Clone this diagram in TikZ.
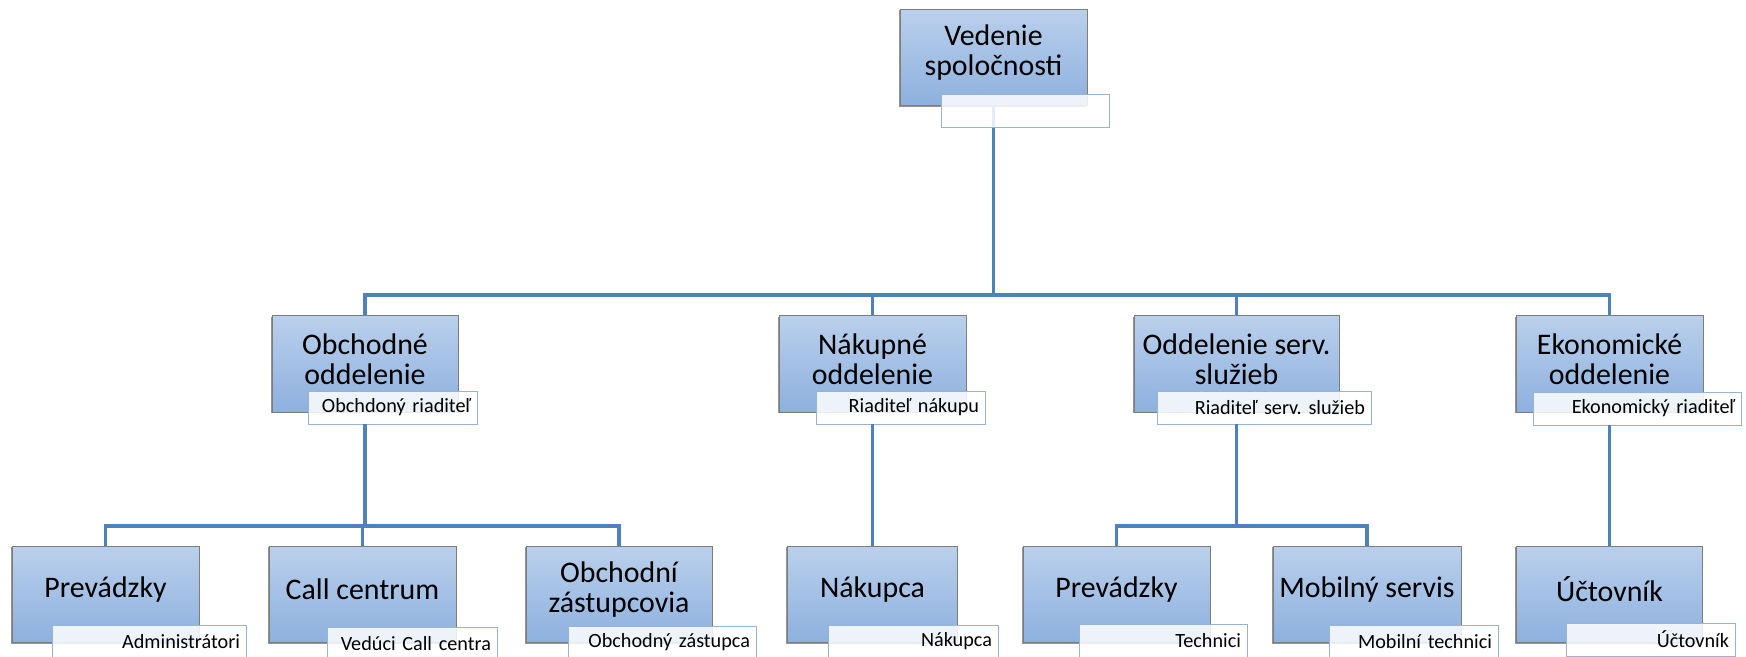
\documentclass[tikz,border=0pt]{standalone}
\usepackage{fontspec}
\setmainfont{Carlito}
\frenchspacing
\usetikzlibrary{shadows}
\definecolor{boxtop}{RGB}{186,208,236}
\definecolor{boxbottom}{RGB}{141,176,222}
\definecolor{boxedge}{RGB}{125,125,125}
\definecolor{roleedge}{RGB}{149,180,218}
\definecolor{connblue}{RGB}{79,129,189}
\tikzset{
  unitbox/.style={draw=boxedge, top color=boxtop, bottom color=boxbottom,
    minimum width=#1, minimum height=1.93cm, inner sep=0pt,
    drop shadow={shadow xshift=-0.6pt, shadow yshift=-0.6pt, opacity=0.6, fill=black!70}},
  unitbox/.default=3.74cm,
  unittext/.style={font=\fontsize{17}{17}\selectfont, align=center, yshift=0.1cm},
  rolebox/.style={draw=roleedge, fill=white, fill opacity=0.85, text opacity=1,
    text width=#1, align=right, minimum height=0.66cm, inner xsep=0.12cm,
    inner ysep=0pt, font=\fontsize{11.5}{12}\selectfont},
  conn/.style={draw=connblue, line width=1.8pt}
}
\begin{document}
\begin{tikzpicture}[x=0.02cm, y=-0.02cm]
    \useasboundingbox (0,0) rectangle (1746,656);

    % top level
    \node[unitbox, label={[unittext]center:{Vedenie\\spoločnosti}}] (ved) at (993.5,57.5) {};

    % departments
    \node[unitbox=3.72cm, label={[unittext]center:{Obchodné\\oddelenie}}] (obch) at (365,364) {};
    \node[unitbox, label={[unittext]center:{Nákupné\\oddelenie}}] (nakup) at (872.5,364) {};
    \node[unitbox=4.1cm, label={[unittext]center:{Oddelenie serv.\\služieb}}] (serv) at (1236.5,364) {};
    \node[unitbox, label={[unittext]center:{Ekonomické\\oddelenie}}] (ekon) at (1609.5,364) {};

    % staff
    \node[unitbox, label={[unittext]center:{Prevádzky}}] (prevA) at (105.5,594.5) {};
    \node[unitbox, label={[unittext]center:{Call centrum}}] (call) at (362.5,594.5) {};
    \node[unitbox=3.72cm, label={[unittext]center:{Obchodní\\zástupcovia}}] (zast) at (619,594.5) {};
    \node[unitbox=3.4cm, label={[unittext]center:{Nákupca}}] (nakupca) at (872.5,594.5) {};
    \node[unitbox, label={[unittext]center:{Prevádzky}}] (prevB) at (1116.5,594.5) {};
    \node[unitbox=3.76cm, label={[unittext]center:{Mobilný servis}}] (mobil) at (1367,594.5) {};
    \node[unitbox=3.72cm, label={[unittext]center:{Účtovník}}] (uct) at (1609.5,594.5) {};

    % connectors to departments
    \coordinate (busA) at (993.5,295);
    \draw[conn] (ved.south) -- (busA);
    \foreach \u in {obch,nakup,serv,ekon}
        \draw[conn] (busA) -| (\u.north);

    % role boxes
    \node[rolebox=3.12cm] (vedR) at (1025,110.5) {};
    \node[rolebox=3.14cm] (obchR) at (392.5,407.5) {Obchdoný riaditeľ};
    \node[rolebox=3.14cm] (nakupR) at (900.5,407.5) {Riaditeľ nákupu};
    \node[rolebox=4.04cm] (servR) at (1264,407.5) {Riaditeľ serv. služieb};
    \node[rolebox=3.92cm] (ekonR) at (1637,408.5) {Ekonomický riaditeľ};
    \node[rolebox=3.64cm] (prevAR) at (149,641.5) {Administrátori};
    \node[rolebox=3.16cm] (callR) at (412,643.5) {Vedúci Call centra};
    \node[rolebox=3.52cm] (zastR) at (662,642.5) {Obchodný zástupca};
    \node[rolebox=3.16cm] (nakupcaR) at (913,641.5) {Nákupca};
    \node[rolebox=3.12cm] (prevBR) at (1163,640.5) {Technici};
    \node[rolebox=3.14cm] (mobilR) at (1413.5,641.5) {Mobilní technici};
    \node[rolebox=3.14cm] (uctR) at (1650.5,639.5) {Účtovník};

    % connectors to staff
    \coordinate (busB) at (365,526);
    \draw[conn] (obch.south |- obchR.south) -- (busB);
    \foreach \u in {prevA,call,zast}
        \draw[conn] (busB) -| (\u.north);
    \draw[conn] (nakup.south |- nakupR.south) -- (nakupca.north);
    \coordinate (busC) at (1236.5,526);
    \draw[conn] (serv.south |- servR.south) -- (busC);
    \foreach \u in {prevB,mobil}
        \draw[conn] (busC) -| (\u.north);
    \draw[conn] (ekon.south |- ekonR.south) -- (uct.north);
\end{tikzpicture}
\end{document}
